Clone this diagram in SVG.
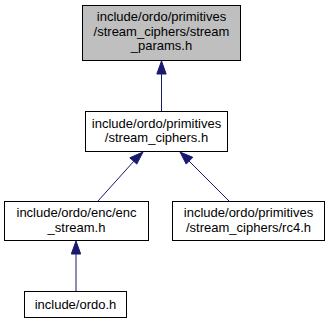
<svg xmlns="http://www.w3.org/2000/svg" width="329" height="323" viewBox="0 0 329 323">
  <style>
    .node rect { fill: #ffffff; stroke: #000000; stroke-width: 1; }
    .node.current rect { fill: #bfbfbf; }
    .node text { font-family: "Liberation Sans", Arial, sans-serif; font-size: 13px; fill: #000000; text-anchor: middle; }
    .edge { stroke: #191970; stroke-width: 1; fill: none; }
    .head { fill: #191970; stroke: #191970; stroke-width: 1; }
  </style>

  <!-- include-dependency edges, arrowheads point at the included header -->
  <g id="edges">
    <line class="edge" x1="161.5" y1="111" x2="161.5" y2="74"/>
    <polygon class="head" points="161.5,61 156.8,74 166.2,74"/>

    <line class="edge" x1="98" y1="201" x2="134" y2="161"/>
    <polygon class="head" points="143,152 129.8,157.8 136.8,164.1"/>

    <line class="edge" x1="229" y1="201" x2="189" y2="161"/>
    <polygon class="head" points="180,152 186.2,164.1 192.8,157.3"/>

    <line class="edge" x1="76" y1="291" x2="76" y2="254"/>
    <polygon class="head" points="76,241 71.3,254 80.7,254"/>
  </g>

  <g id="stream_params" class="node current">
    <rect x="82.5" y="5.5" width="158" height="55"/>
    <text x="161.5" y="21">include/ordo/primitives</text>
    <text x="161.5" y="35.5">/stream_ciphers/stream</text>
    <text x="161.5" y="50">_params.h</text>
  </g>

  <g id="stream_ciphers" class="node">
    <rect x="85.5" y="111.5" width="142" height="40"/>
    <text x="156.5" y="127.5">include/ordo/primitives</text>
    <text x="156.5" y="142">/stream_ciphers.h</text>
  </g>

  <g id="enc_stream" class="node">
    <rect x="4.5" y="201.5" width="144" height="39"/>
    <text x="76.5" y="217">include/ordo/enc/enc</text>
    <text x="76.5" y="231.5">_stream.h</text>
  </g>

  <g id="rc4" class="node">
    <rect x="172.5" y="201.5" width="152" height="39"/>
    <text x="248.5" y="217">include/ordo/primitives</text>
    <text x="248.5" y="231.5">/stream_ciphers/rc4.h</text>
  </g>

  <g id="ordo" class="node">
    <rect x="24.5" y="291.5" width="102" height="26"/>
    <text x="75.5" y="308.5">include/ordo.h</text>
  </g>
</svg>
